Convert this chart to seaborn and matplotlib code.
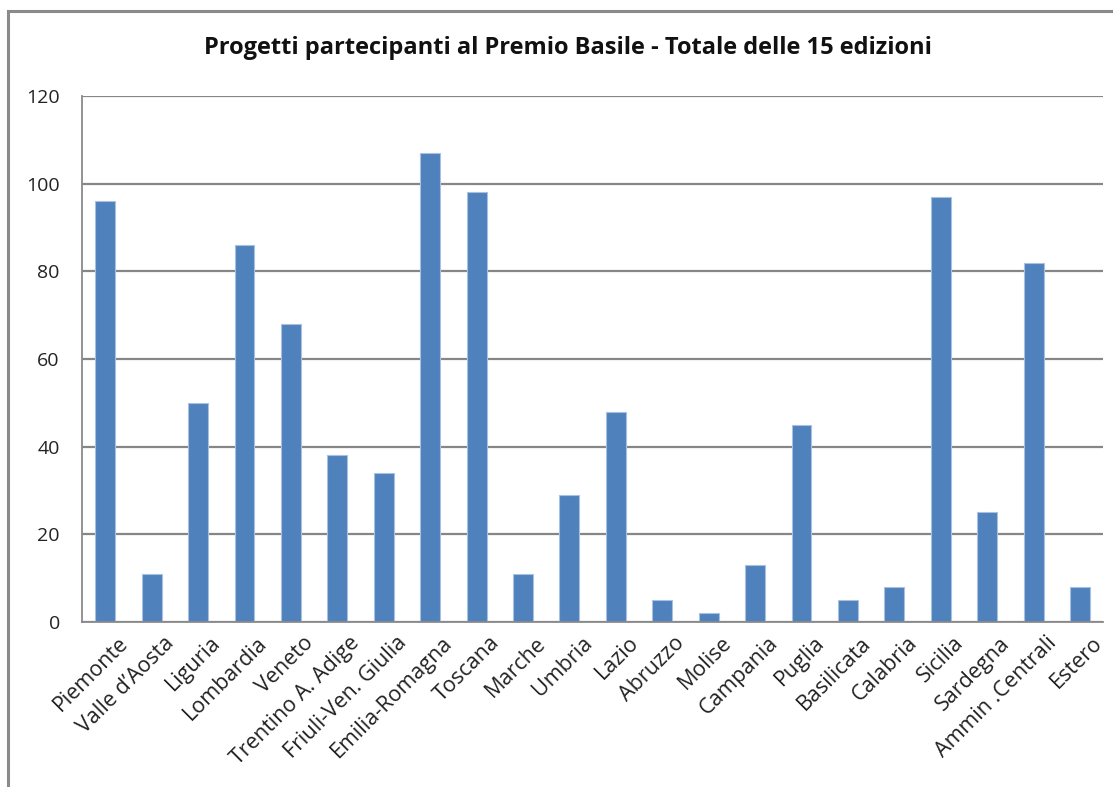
import pandas as pd
import seaborn as sns
import matplotlib.pyplot as plt
from matplotlib.patches import Rectangle
from matplotlib.ticker import FixedLocator
from matplotlib.transforms import ScaledTranslation

regioni = ["Piemonte", "Valle d\u2019Aosta", "Liguria", "Lombardia", "Veneto",
           "Trentino A. Adige", "Friuli-Ven. Giulia", "Emilia-Romagna",
           "Toscana", "Marche", "Umbria", "Lazio", "Abruzzo", "Molise",
           "Campania", "Puglia", "Basilicata", "Calabria", "Sicilia",
           "Sardegna", "Ammin .Centrali", "Estero"]
progetti = [96, 11, 50, 86, 68, 38, 34, 107, 98, 11, 29, 48, 5, 2, 13, 45,
            5, 8, 97, 25, 82, 8]
y_ticks = [0, 20, 40, 60, 80, 100, 120]
titolo = "Progetti partecipanti al Premio Basile - Totale delle 15 edizioni"

df = pd.DataFrame({"Regione": regioni, "Progetti": progetti})

sns.set_style("white")
plt.rcParams['font.family'] = ['Open Sans', 'DejaVu Sans']

fig = plt.figure(figsize=(11.13, 7.87), dpi=100)
ax = fig.add_axes([0.0737, 0.2097, 0.9175, 0.6683])

# chart frame (cut off on the right and bottom in the original)
fig.patches.append(Rectangle((8 / 1113, -0.05), 1.2, 1 - 11 / 787 + 0.05,
                             transform=fig.transFigure, fill=False,
                             edgecolor="#8a8a8a", linewidth=2.2))

sns.barplot(data=df, x="Regione", y="Progetti", color="#4F81BD",
            width=0.43, edgecolor="#a9c1e0", linewidth=0.8,
            saturation=1, ax=ax)

ax.set_ylim(0, 120)
ax.set_xlim(-0.5, len(regioni) - 0.5)
ax.set_yticks(y_ticks)
ax.yaxis.grid(True, color="#868686", linewidth=1.6)
ax.set_axisbelow(True)
ax.set_xlabel("")
ax.set_ylabel("")

for s in ["top", "right"]:
    ax.spines[s].set_visible(False)
for s in ["left", "bottom"]:
    ax.spines[s].set_color("#8a8a8a")
    ax.spines[s].set_linewidth(1.3)

ax.tick_params(axis="y", length=7, width=1.3, color="#8a8a8a",
               labelsize=14, pad=9, labelcolor="#222222")
ax.tick_params(axis="x", which="major", length=0, pad=4)
ax.xaxis.set_minor_locator(FixedLocator([i - 0.5 for i in range(len(regioni) + 1)]))
ax.tick_params(axis="x", which="minor", length=7, width=1.3, color="#8a8a8a")
ax.set_xticks(range(len(regioni)))
ax.set_xticklabels(regioni, rotation=45, ha="right", rotation_mode="anchor",
                   fontsize=15.5, color="#222222")
offset = ScaledTranslation(12 / 100, -5 / 100, fig.dpi_scale_trans)
for lab in ax.get_xticklabels():
    lab.set_transform(lab.get_transform() + offset)

fig.text(0.51, 0.939, titolo, ha="center", va="center", fontsize=17,
         fontweight="bold", color="#111111")

fig.savefig("out.png", dpi=100)
